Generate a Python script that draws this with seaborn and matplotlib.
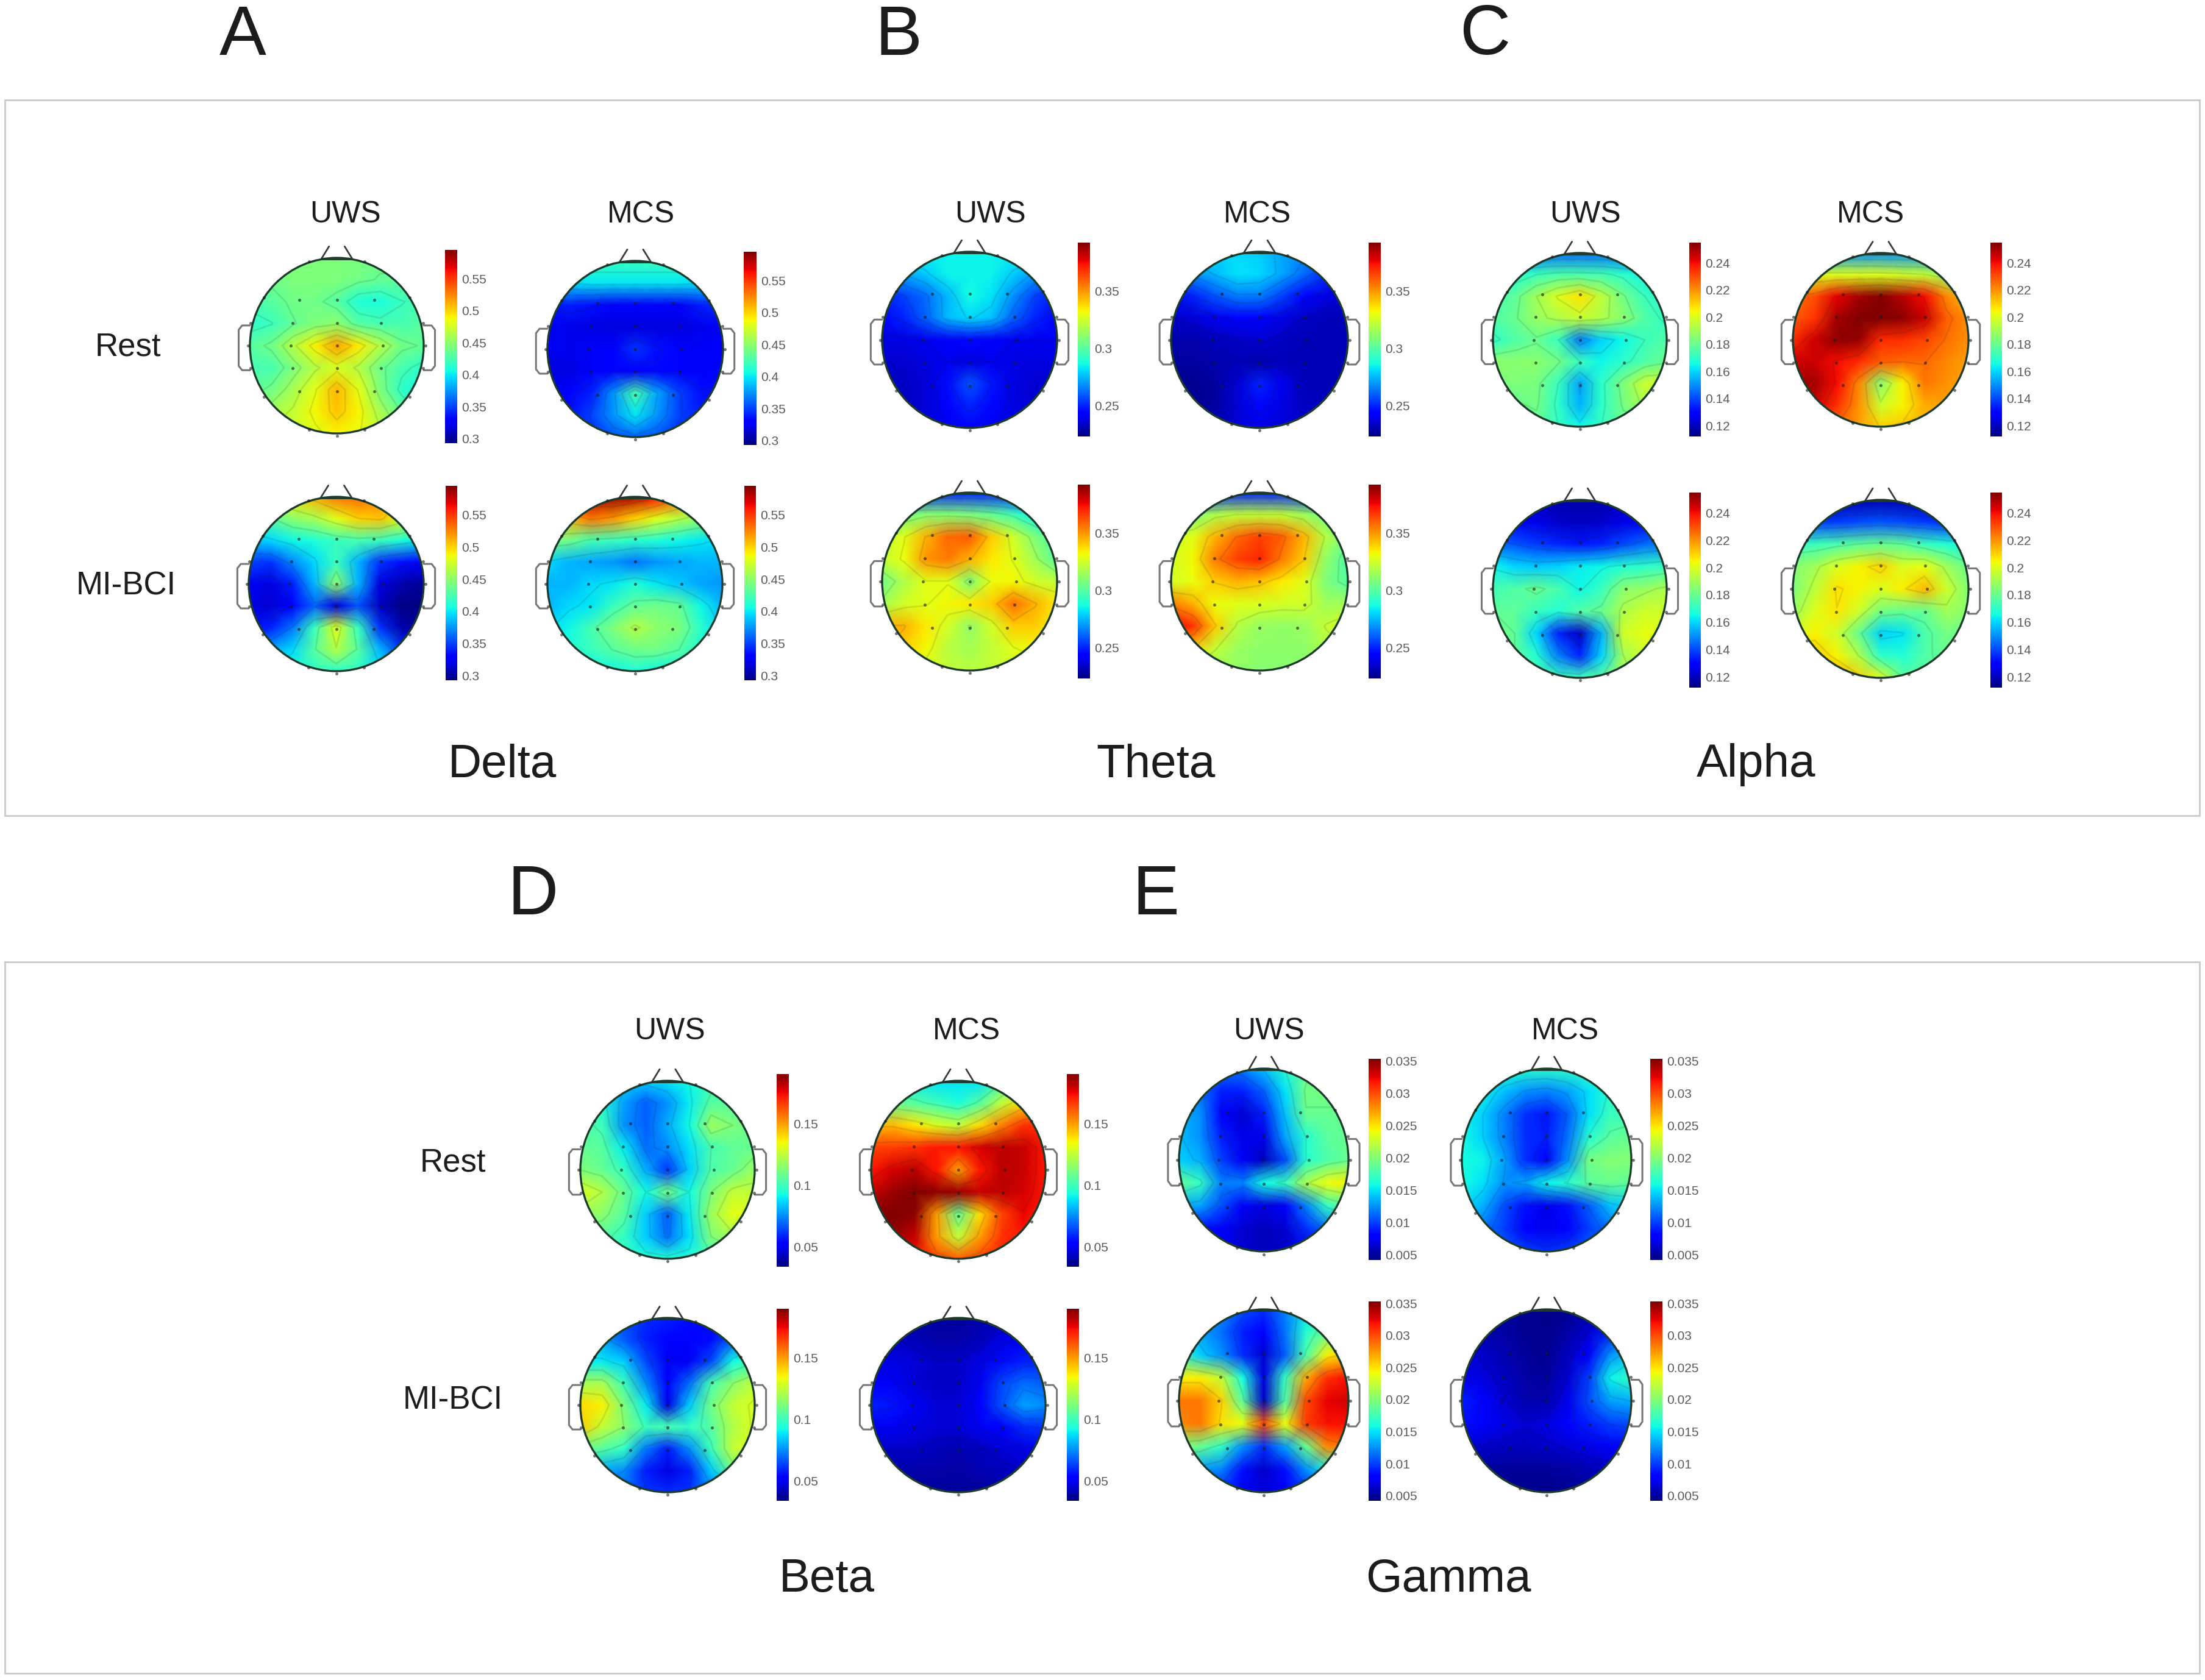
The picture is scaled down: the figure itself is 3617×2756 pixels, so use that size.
#!/usr/bin/env python3
"""EEG topographies per frequency band, for UWS and MCS, at rest and under MI-BCI."""

import numpy as np
import matplotlib
matplotlib.use("Agg")
import matplotlib.pyplot as plt
from matplotlib.patches import Circle, Rectangle
import seaborn as sns

sns.set_theme(style="white")
plt.rcParams["font.family"] = ["Liberation Sans", "DejaVu Sans"]

W, H = 3617, 2756

# values on a 9x9 grid over the head, front row first
# delta, theta, alpha, beta in 1e-3, gamma in 1e-4
DELTA_UWS_REST = [
    [445, 445, 445, 445, 445, 445, 440, 440, 440],
    [440, 440, 445, 445, 445, 440, 435, 435, 430],
    [425, 430, 440, 440, 430, 410, 408, 420, 425],
    [415, 420, 435, 445, 450, 430, 425, 425, 430],
    [430, 440, 465, 490, 515, 492, 465, 440, 435],
    [425, 425, 445, 465, 478, 465, 440, 425, 415],
    [430, 440, 460, 482, 510, 482, 445, 415, 405],
    [450, 460, 470, 488, 505, 490, 460, 435, 420],
    [465, 470, 475, 480, 490, 485, 470, 450, 440],
]
DELTA_MCS_REST = [
    [420, 420, 420, 420, 420, 420, 420, 420, 420],
    [385, 395, 400, 400, 400, 400, 400, 395, 385],
    [335, 340, 335, 330, 330, 330, 330, 340, 345],
    [325, 322, 320, 318, 318, 318, 318, 322, 330],
    [325, 322, 325, 330, 345, 335, 328, 325, 330],
    [318, 320, 325, 330, 328, 332, 330, 325, 330],
    [320, 330, 340, 375, 425, 380, 350, 335, 335],
    [325, 335, 350, 375, 400, 375, 350, 340, 335],
    [335, 340, 345, 355, 360, 355, 345, 340, 335],
]
DELTA_UWS_BCI = [
    [470, 480, 490, 510, 530, 535, 525, 500, 480],
    [420, 430, 450, 460, 480, 500, 505, 480, 450],
    [385, 395, 405, 410, 420, 425, 420, 410, 400],
    [350, 345, 370, 395, 420, 385, 345, 335, 330],
    [325, 318, 340, 385, 450, 385, 320, 305, 300],
    [320, 315, 330, 360, 320, 355, 310, 295, 295],
    [335, 340, 365, 420, 480, 420, 345, 305, 300],
    [370, 380, 395, 430, 465, 430, 385, 345, 330],
    [400, 405, 410, 415, 415, 415, 400, 385, 370],
]
DELTA_MCS_BCI = [
    [560, 570, 580, 590, 580, 560, 530, 500, 470],
    [510, 510, 530, 520, 500, 480, 465, 450, 440],
    [445, 440, 425, 420, 415, 410, 405, 400, 395],
    [395, 385, 380, 375, 365, 375, 380, 385, 385],
    [385, 385, 395, 400, 410, 400, 390, 380, 375],
    [385, 395, 400, 420, 435, 440, 435, 405, 385],
    [395, 405, 425, 445, 465, 450, 445, 415, 395],
    [395, 410, 420, 430, 440, 440, 430, 410, 395],
    [395, 400, 405, 405, 410, 405, 405, 400, 395],
]
THETA_UWS_REST = [
    [285, 285, 285, 285, 285, 285, 285, 285, 285],
    [270, 272, 278, 285, 285, 285, 278, 270, 265],
    [250, 255, 262, 275, 287, 282, 268, 255, 248],
    [245, 250, 260, 275, 280, 276, 260, 250, 245],
    [238, 238, 240, 243, 245, 243, 240, 240, 240],
    [235, 235, 237, 240, 238, 240, 238, 237, 237],
    [232, 233, 236, 246, 258, 248, 238, 235, 235],
    [232, 233, 236, 243, 250, 245, 238, 235, 235],
    [235, 236, 238, 240, 242, 240, 238, 236, 236],
]
THETA_MCS_REST = [
    [275, 278, 280, 280, 278, 272, 268, 260, 255],
    [262, 268, 275, 282, 280, 272, 262, 252, 245],
    [245, 250, 258, 265, 265, 255, 245, 238, 235],
    [234, 236, 240, 244, 243, 238, 234, 232, 232],
    [230, 230, 232, 234, 235, 233, 231, 231, 231],
    [228, 228, 230, 231, 230, 232, 231, 231, 231],
    [226, 226, 228, 236, 250, 240, 232, 231, 231],
    [226, 226, 228, 236, 245, 238, 233, 232, 232],
    [228, 228, 232, 236, 238, 236, 234, 234, 234],
]
THETA_UWS_BCI = [
    [250, 250, 250, 250, 250, 250, 250, 250, 250],
    [300, 305, 310, 310, 308, 303, 295, 285, 280],
    [322, 328, 345, 358, 360, 340, 325, 308, 298],
    [322, 330, 350, 355, 345, 335, 328, 315, 300],
    [305, 318, 328, 328, 308, 330, 332, 325, 322],
    [315, 325, 328, 332, 335, 340, 357, 345, 335],
    [345, 345, 335, 325, 312, 325, 340, 340, 332],
    [345, 340, 332, 320, 316, 322, 328, 332, 330],
    [330, 328, 325, 322, 320, 322, 325, 325, 325],
]
THETA_MCS_BCI = [
    [250, 250, 250, 250, 250, 250, 250, 250, 250],
    [305, 308, 318, 322, 322, 322, 315, 305, 300],
    [325, 328, 345, 358, 365, 360, 345, 320, 305],
    [325, 332, 355, 365, 370, 355, 340, 312, 298],
    [325, 330, 340, 345, 342, 335, 328, 308, 300],
    [355, 345, 330, 328, 327, 325, 325, 315, 315],
    [375, 368, 340, 320, 313, 312, 313, 322, 328],
    [350, 340, 322, 314, 311, 311, 311, 318, 322],
    [325, 320, 315, 312, 310, 310, 312, 315, 318],
]
ALPHA_UWS_REST = [
    [145, 145, 145, 145, 145, 145, 145, 145, 145],
    [165, 168, 172, 175, 175, 174, 170, 165, 162],
    [175, 178, 190, 200, 208, 195, 182, 172, 168],
    [176, 180, 188, 192, 196, 192, 186, 176, 170],
    [170, 176, 180, 172, 148, 160, 165, 172, 176],
    [186, 186, 186, 182, 172, 165, 170, 176, 180],
    [184, 184, 183, 172, 153, 170, 184, 197, 197],
    [180, 180, 182, 170, 155, 170, 182, 192, 190],
    [178, 178, 178, 172, 165, 172, 178, 178, 178],
]
ALPHA_MCS_REST = [
    [150, 150, 150, 150, 150, 150, 150, 150, 150],
    [200, 200, 200, 200, 200, 198, 196, 190, 185],
    [225, 230, 242, 250, 254, 248, 240, 222, 212],
    [228, 234, 250, 255, 256, 253, 246, 228, 220],
    [236, 245, 253, 252, 236, 235, 232, 225, 220],
    [245, 245, 240, 236, 228, 226, 226, 222, 218],
    [252, 250, 240, 222, 186, 205, 224, 220, 216],
    [248, 245, 235, 220, 197, 205, 216, 218, 214],
    [235, 232, 225, 218, 210, 212, 214, 214, 212],
]
ALPHA_UWS_BCI = [
    [125, 122, 120, 118, 118, 118, 120, 122, 125],
    [132, 130, 125, 122, 120, 122, 125, 130, 135],
    [145, 142, 138, 135, 133, 135, 140, 145, 148],
    [165, 160, 158, 160, 163, 165, 168, 170, 172],
    [174, 176, 180, 175, 165, 172, 186, 188, 192],
    [178, 178, 172, 168, 176, 180, 192, 198, 198],
    [184, 178, 160, 135, 122, 155, 198, 202, 200],
    [185, 178, 168, 148, 135, 160, 190, 198, 196],
    [182, 180, 176, 172, 172, 178, 188, 192, 192],
]
ALPHA_MCS_BCI = [
    [120, 118, 118, 118, 118, 118, 118, 118, 120],
    [140, 138, 138, 140, 142, 140, 138, 136, 135],
    [172, 172, 175, 178, 180, 178, 172, 168, 165],
    [185, 190, 200, 205, 210, 200, 202, 190, 180],
    [183, 195, 208, 205, 200, 206, 214, 198, 185],
    [188, 200, 207, 198, 182, 180, 180, 190, 186],
    [200, 205, 198, 180, 160, 162, 175, 182, 180],
    [212, 212, 205, 192, 170, 168, 176, 180, 178],
    [222, 220, 216, 210, 200, 178, 176, 178, 178],
]
BETA_UWS_REST = [
    [95, 90, 85, 85, 88, 92, 98, 100, 100],
    [100, 95, 78, 68, 76, 90, 105, 105, 105],
    [105, 100, 76, 68, 80, 92, 118, 112, 108],
    [108, 105, 90, 70, 75, 88, 102, 106, 108],
    [112, 108, 98, 80, 62, 85, 103, 108, 118],
    [130, 122, 108, 92, 110, 92, 112, 125, 125],
    [118, 115, 105, 85, 68, 90, 118, 132, 130],
    [105, 105, 98, 85, 70, 88, 112, 120, 115],
    [100, 100, 98, 95, 95, 95, 100, 105, 105],
]
BETA_MCS_REST = [
    [92, 92, 90, 88, 88, 88, 100, 110, 120],
    [105, 108, 105, 100, 94, 105, 125, 140, 150],
    [145, 145, 138, 130, 125, 140, 155, 168, 170],
    [165, 166, 168, 172, 172, 178, 182, 180, 172],
    [172, 178, 182, 172, 150, 172, 182, 180, 172],
    [180, 186, 190, 188, 186, 180, 182, 178, 172],
    [190, 190, 188, 150, 108, 140, 165, 175, 170],
    [190, 188, 180, 150, 125, 150, 168, 172, 168],
    [182, 178, 172, 165, 160, 165, 170, 170, 168],
]
BETA_UWS_BCI = [
    [75, 70, 65, 60, 58, 55, 55, 60, 65],
    [82, 78, 68, 58, 52, 52, 55, 68, 78],
    [90, 90, 85, 65, 50, 50, 65, 92, 100],
    [120, 120, 100, 75, 52, 70, 102, 115, 125],
    [140, 136, 112, 90, 48, 85, 110, 125, 130],
    [142, 125, 115, 100, 102, 98, 105, 122, 130],
    [110, 105, 98, 72, 58, 75, 100, 125, 130],
    [85, 80, 75, 58, 48, 58, 85, 110, 118],
    [70, 70, 68, 62, 60, 62, 70, 80, 85],
]
BETA_MCS_BCI = [
    [40, 40, 38, 38, 38, 40, 42, 45, 48],
    [44, 44, 42, 40, 40, 42, 48, 50, 52],
    [48, 48, 46, 44, 44, 48, 55, 58, 60],
    [52, 50, 46, 44, 44, 50, 64, 70, 68],
    [58, 56, 50, 46, 46, 52, 66, 78, 75],
    [50, 50, 48, 46, 46, 50, 54, 60, 62],
    [44, 44, 44, 42, 41, 43, 46, 48, 50],
    [40, 40, 40, 40, 39, 41, 42, 44, 46],
    [40, 40, 38, 38, 38, 38, 40, 42, 44],
]
GAMMA_UWS_REST = [
    [130, 125, 115, 120, 140, 165, 185, 190, 190],
    [125, 115, 90, 90, 110, 150, 195, 195, 195],
    [135, 125, 80, 65, 90, 140, 190, 190, 190],
    [140, 125, 90, 70, 72, 130, 165, 185, 190],
    [145, 135, 100, 75, 58, 105, 165, 180, 190],
    [190, 170, 120, 120, 158, 170, 215, 240, 245],
    [135, 130, 105, 75, 68, 80, 120, 170, 190],
    [85, 85, 80, 65, 60, 65, 95, 115, 120],
    [75, 75, 72, 65, 60, 62, 72, 80, 85],
]
GAMMA_MCS_REST = [
    [165, 165, 162, 165, 165, 168, 172, 175, 175],
    [160, 155, 140, 125, 120, 130, 150, 165, 170],
    [155, 145, 120, 95, 88, 110, 150, 172, 175],
    [158, 145, 120, 95, 90, 115, 165, 185, 190],
    [160, 155, 130, 95, 82, 125, 195, 200, 200],
    [160, 150, 125, 130, 155, 165, 185, 190, 185],
    [150, 135, 105, 85, 72, 85, 110, 140, 150],
    [125, 115, 100, 80, 72, 80, 100, 115, 125],
    [125, 120, 110, 100, 95, 100, 110, 120, 125],
]
GAMMA_UWS_BCI = [
    [140, 130, 120, 105, 95, 120, 150, 170, 180],
    [150, 130, 115, 90, 78, 115, 165, 190, 200],
    [175, 145, 125, 95, 65, 110, 180, 245, 260],
    [245, 245, 225, 160, 68, 170, 270, 310, 320],
    [285, 285, 255, 185, 62, 180, 300, 325, 330],
    [280, 285, 250, 240, 300, 240, 305, 320, 320],
    [200, 190, 170, 125, 95, 130, 190, 280, 290],
    [135, 130, 120, 85, 62, 85, 125, 160, 180],
    [95, 95, 90, 75, 68, 75, 90, 105, 115],
]
GAMMA_MCS_BCI = [
    [55, 52, 50, 48, 46, 48, 52, 62, 75],
    [58, 55, 52, 48, 46, 52, 65, 90, 110],
    [68, 62, 56, 50, 48, 60, 80, 125, 145],
    [72, 68, 60, 52, 50, 65, 100, 155, 170],
    [90, 80, 65, 55, 55, 72, 105, 130, 135],
    [85, 80, 70, 65, 68, 78, 90, 100, 105],
    [65, 62, 60, 60, 62, 66, 70, 75, 80],
    [50, 50, 50, 50, 50, 52, 56, 60, 65],
    [50, 50, 48, 46, 46, 48, 52, 55, 60],
]

# colour limits and colorbar ticks per band
DELTA_LIMITS = (0.293, 0.595)
THETA_LIMITS = (0.223, 0.392)
ALPHA_LIMITS = (0.112, 0.255)
BETA_LIMITS = (0.034, 0.190)
GAMMA_LIMITS = (0.0042, 0.0353)
DELTA_TICKS = ["0.3", "0.35", "0.4", "0.45", "0.5", "0.55"]
THETA_TICKS = ["0.25", "0.3", "0.35"]
ALPHA_TICKS = ["0.12", "0.14", "0.16", "0.18", "0.2", "0.22", "0.24"]
BETA_TICKS = ["0.05", "0.1", "0.15"]
GAMMA_TICKS = ["0.005", "0.01", "0.015", "0.02", "0.025", "0.03", "0.035"]

# electrode positions in head radii, x to the right, y to the nose
ELECTRODE_X = [-0.43, 0, 0.43, -0.51, 0, 0.51, -0.53, 0, 0.53, -0.51, 0, 0.51, -0.43, 0, 0.43,
               -0.32, 0.32, -0.84, 0.84, -0.99, 0.99, -1.02, 1.02, -0.99, 0.99, -0.84, 0.84,
               -0.32, 0.32, 0]
ELECTRODE_Y = [0.52, 0.52, 0.52, 0.26, 0.26, 0.26, 0, 0, 0, -0.26, -0.26, -0.26, -0.52, -0.52, -0.52,
               0.96, 0.96, 0.55, 0.55, 0.26, 0.26, 0, 0, -0.26, -0.26, -0.58, -0.58,
               -0.96, -0.96, -1.03]

# layout in pixels: (left, top, right, bottom), order UWS rest, MCS rest, UWS BCI, MCS BCI
BANDS = [
    dict(maps=[DELTA_UWS_REST, DELTA_MCS_REST, DELTA_UWS_BCI, DELTA_MCS_BCI], scale=1e-3,
         limits=DELTA_LIMITS, ticks=DELTA_TICKS,
         heads=[(410, 423, 695, 711), (898, 428, 1186, 717), (408, 815, 695, 1101), (898, 815, 1185, 1101)],
         bars=[(730, 410, 750, 727), (1220, 413, 1241, 730), (731, 797, 750, 1116), (1221, 797, 1240, 1116)]),
    dict(maps=[THETA_UWS_REST, THETA_MCS_REST, THETA_UWS_BCI, THETA_MCS_BCI], scale=1e-3,
         limits=THETA_LIMITS, ticks=THETA_TICKS,
         heads=[(1447, 413, 1734, 702), (1921, 413, 2211, 702), (1447, 808, 1734, 1100), (1921, 808, 2211, 1100)],
         bars=[(1768, 398, 1788, 716), (2245, 398, 2265, 716), (1768, 795, 1788, 1113), (2245, 795, 2265, 1113)]),
    dict(maps=[ALPHA_UWS_REST, ALPHA_MCS_REST, ALPHA_UWS_BCI, ALPHA_MCS_BCI], scale=1e-3,
         limits=ALPHA_LIMITS, ticks=ALPHA_TICKS,
         heads=[(2449, 415, 2734, 700), (2941, 415, 3229, 700), (2449, 820, 2734, 1112), (2941, 820, 3229, 1112)],
         bars=[(2771, 398, 2790, 716), (3265, 398, 3284, 716), (2771, 808, 2790, 1128), (3265, 808, 3284, 1128)]),
    dict(maps=[BETA_UWS_REST, BETA_MCS_REST, BETA_UWS_BCI, BETA_MCS_BCI], scale=1e-3,
         limits=BETA_LIMITS, ticks=BETA_TICKS,
         heads=[(952, 1773, 1238, 2065), (1429, 1773, 1715, 2065), (952, 2162, 1238, 2448), (1429, 2162, 1715, 2448)],
         bars=[(1274, 1762, 1294, 2078), (1750, 1762, 1770, 2078), (1274, 2147, 1294, 2462), (1750, 2147, 1770, 2462)]),
    dict(maps=[GAMMA_UWS_REST, GAMMA_MCS_REST, GAMMA_UWS_BCI, GAMMA_MCS_BCI], scale=1e-4,
         limits=GAMMA_LIMITS, ticks=GAMMA_TICKS,
         heads=[(1934, 1753, 2212, 2053), (2398, 1753, 2676, 2053), (1934, 2148, 2212, 2448), (2398, 2148, 2676, 2448)],
         bars=[(2245, 1737, 2265, 2067), (2707, 1737, 2727, 2067), (2245, 2135, 2265, 2462), (2707, 2135, 2727, 2462)]),
]

# text, x, y, size in points
LABELS = [
    ("A", 398, 60, 83), ("B", 1474, 60, 83), ("C", 2436, 60, 83), ("D", 874, 1470, 83), ("E", 1896, 1470, 83),
    ("UWS", 566, 352, 36), ("MCS", 1051, 352, 36), ("UWS", 1624, 352, 36), ("MCS", 2062, 352, 36),
    ("UWS", 2600, 352, 36), ("MCS", 3068, 352, 36), ("UWS", 1098, 1692, 36), ("MCS", 1585, 1692, 36),
    ("UWS", 2081, 1692, 36), ("MCS", 2567, 1692, 36),
    ("Rest", 210, 569, 38), ("MI-BCI", 207, 962, 38), ("Rest", 743, 1908, 38), ("MI-BCI", 743, 2298, 38),
    ("Delta", 824, 1255, 55), ("Theta", 1896, 1255, 55), ("Alpha", 2881, 1255, 55),
    ("Beta", 1356, 2591, 55), ("Gamma", 2376, 2591, 55),
]
FRAMES = [(8, 164, 3608, 1338), (8, 1578, 3608, 2745)]


def px_axes(fig, box):
    left, top, right, bottom = box
    return fig.add_axes([left / W, 1 - bottom / H, (right - left) / W, (bottom - top) / H])


def head_xy(x, y):
    """Head radii to grid positions of the heatmap."""
    return (np.asarray(x, dtype=float) + 1) * 4, (1 - np.asarray(y, dtype=float)) * 4


def draw_outline(ax, color):
    for side in (-1, 1):
        ear_x = [side * v for v in (1, 1.09, 1.13, 1.13, 1.09, 1)]
        ear_y = [0.23, 0.23, 0.18, -0.23, -0.28, -0.28]
        ax.plot(*head_xy(ear_x, ear_y), color="#777777", lw=2.2, clip_on=False)
        nose_x = [side * 0.18, side * 0.09]
        nose_y = [0.985, 1.13]
        ax.plot(*head_xy(nose_x, nose_y), color="#3a3a3a", lw=2, clip_on=False)
    ax.plot(*head_xy([-0.18, 0.18], [0.985, 0.985]), color=color, lw=2, clip_on=False)


def draw_map(fig, values, scale, limits, ticks, head_box, bar_box):
    ax = px_axes(fig, head_box)
    cax = px_axes(fig, bar_box)
    grid = np.array(values) * scale
    sns.heatmap(grid, ax=ax, cbar_ax=cax, cmap="jet", vmin=limits[0], vmax=limits[1],
                xticklabels=False, yticklabels=False, shading="gouraud",
                cbar_kws={"ticks": [float(t) for t in ticks]})
    ax.set_xlim(0, 8)
    ax.set_ylim(8, 0)
    ax.set_axis_off()

    rim = Circle((4, 4), 4, fill=False, ec="#1d3b2c", lw=2.4, clip_on=False, zorder=5)
    ax.add_patch(rim)
    ax.collections[0].set_clip_path(rim)

    levels = np.linspace(grid.min(), grid.max(), 8)[1:-1]
    lines = ax.contour(np.arange(9), np.arange(9), grid, levels=levels,
                       colors="k", linewidths=2, alpha=0.11, linestyles="solid")
    lines.set_clip_path(rim)

    draw_outline(ax, "#1d3b2c")
    ex, ey = head_xy(ELECTRODE_X, ELECTRODE_Y)
    ax.scatter(ex, ey, s=13, c="#1a1a1a", alpha=0.6, linewidths=0, clip_on=False, zorder=6)

    cax.set_yticklabels(ticks)
    cax.tick_params(axis="y", length=0, pad=5, labelsize=15, labelcolor="#5a5a5a")


def main():
    fig = plt.figure(figsize=(W / 100, H / 100), dpi=100, facecolor="white")

    for left, top, right, bottom in FRAMES:
        fig.add_artist(Rectangle((left / W, 1 - bottom / H), (right - left) / W, (bottom - top) / H,
                                 transform=fig.transFigure, fill=False, ec="#c9c9c9", lw=2))

    for band in BANDS:
        for values, head_box, bar_box in zip(band["maps"], band["heads"], band["bars"]):
            draw_map(fig, values, band["scale"], band["limits"], band["ticks"], head_box, bar_box)

    for text, x, y, size in LABELS:
        fig.text(x / W, 1 - y / H, text, fontsize=size, ha="center", va="center", color="#1c1c1c")

    fig.savefig("out.png", dpi=100)
    plt.close(fig)


if __name__ == "__main__":
    main()
